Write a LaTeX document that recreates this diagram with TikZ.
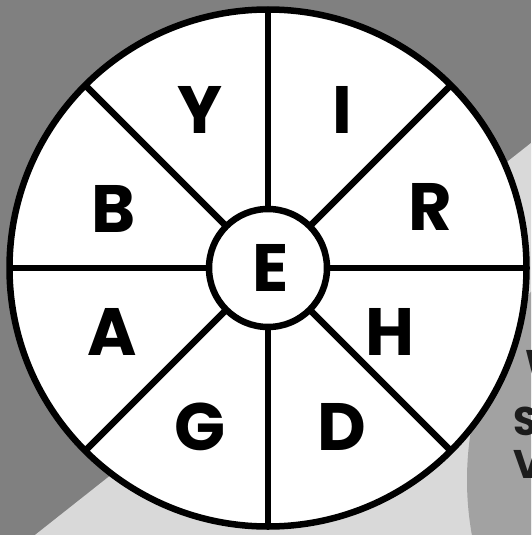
\documentclass[tikz,border=0pt]{standalone}
\usepackage{fontspec}
\setmainfont{Poppins}
\usetikzlibrary{positioning}
\definecolor{BgDark}{RGB}{128,128,128}
\definecolor{BgLight}{RGB}{217,217,217}
\definecolor{BgMid}{RGB}{162,162,162}
\definecolor{TxtDark}{RGB}{28,28,28}

\begin{document}
\begin{tikzpicture}[x=1pt, y=-1pt,
    ring/.style={circle, draw=black, fill=white, line width=6.5pt,
                 inner sep=0pt, outer sep=0pt},
    lbl/.style={font=\fontsize{67}{67}\selectfont\bfseries, inner sep=0pt},
    side/.style={font=\fontsize{40}{40}\selectfont\bfseries, text=TxtDark,
                 anchor=west, inner sep=0pt},
    spoke/.style={line width=6.5pt}
  ]
  % Background
  \useasboundingbox (0,0) rectangle (531,535);
  \clip (0,0) rectangle (531,535);
  \fill[BgDark] (0,0) rectangle (531,535);
  \fill[BgLight] (35,535) -- (531,143) -- (531,535) -- cycle;
  \fill[BgMid] (776,480) circle[radius=309];

  % Words running off the right edge
  \node[side] (wa) at (525,364) {W};
  \node[side] (wb) at (513,421) {S};
  \node[side] (wc) at (513,464) {V};

  % Wheel
  \node[ring, minimum size=517pt] (rim) at (268,268) {};
  \node[ring, minimum size=118pt] (hub) at (rim.center) {};
  \foreach \a in {0,45,...,315}
    \draw[spoke] (hub.\a) -- (rim.\a);

  % Letters
  \node[lbl] (lE) at (271,268) {E};
  \foreach \t/\x/\y in {Y/200/110, I/342/110, R/430/207, B/114/209,
                        H/390/332, A/112/332, G/200/427, D/342/427}
    \node[lbl] (l\t) at (\x,\y) {\t};
\end{tikzpicture}
\end{document}
